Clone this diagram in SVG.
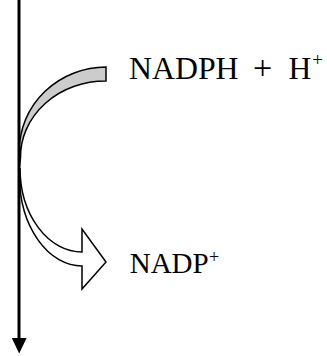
<svg xmlns="http://www.w3.org/2000/svg" width="327" height="356" viewBox="0 0 327 356">
<style>
.t{font-family:"Liberation Serif","Times New Roman",serif;fill:#000}
.band{stroke:#000;stroke-width:1.5;stroke-linejoin:miter}
</style>
<rect width="327" height="356" fill="#fff"/>
<g id="connectors">
<line x1="19" y1="0" x2="19" y2="340" stroke="#000" stroke-width="3"/>
<polygon points="11.8,338 26.6,338 19.2,353.5" fill="#000"/>
</g>
<g id="nadph-arrow">
<path class="band" fill="#cccccc" d="M106,67 A87,83 0 0 0 19.5,150 L19.5,166 L20.5,158 A85,76 0 0 1 106,81 Z"/>
</g>
<g id="nadp-arrow">
<path class="band" fill="#fff" d="M20,168 A62,84 0 0 0 82,252 L82,229 L106,262 L82,289 L82,266 A62.5,90 0 0 1 19.5,176 Z"/>
</g>
<g id="nadph-label">
<text class="t" x="129" y="78.7" font-size="31.8">NADPH</text>
<text class="t" x="253" y="78.7" font-size="34">+</text>
<text class="t" x="288.4" y="78.7" font-size="31.5">H</text>
<text class="t" x="312.3" y="65.8" font-size="19">+</text>
</g>
<g id="nadp-label">
<text class="t" x="129.7" y="273.3" font-size="29">NADP</text>
<text class="t" x="209" y="262.5" font-size="18">+</text>
</g>
</svg>
